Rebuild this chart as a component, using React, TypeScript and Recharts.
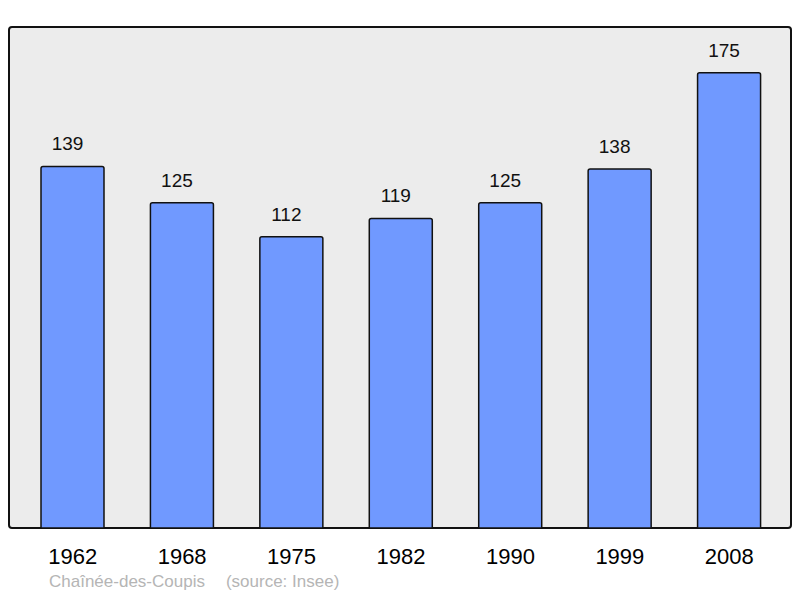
import React from 'react';
import { BarChart, Bar, XAxis, YAxis, LabelList } from 'recharts';

// Population par recensement
const years = ['1962', '1968', '1975', '1982', '1990', '1999', '2008'];
const population = [139, 125, 112, 119, 125, 138, 175];

const data = years.map((year, i) => ({ year, pop: population[i] }));

const FONT = '"Liberation Sans", Arial, Helvetica, sans-serif';

const YearTick = (props: any) => {
    const { x, payload } = props;
    return (
        <text x={x} y={564} textAnchor="middle" fontSize={22} fontFamily={FONT} fill="#000">
            {payload.value}
        </text>
    );
};

export default function App() {
    return (
        <div style={{ position: 'absolute', left: 0, top: 0, width: 800, height: 598, background: '#fff', fontFamily: FONT }}>
            {/* panneau gris derrière le graphique */}
            <div
                style={{
                    position: 'absolute',
                    left: 8,
                    top: 26,
                    width: 784,
                    height: 503,
                    boxSizing: 'border-box',
                    border: '2px solid #111',
                    borderRadius: 4,
                    background: '#ececec',
                }}
            />
            <div style={{ position: 'absolute', left: 0, top: 0 }}>
                <BarChart width={800} height={598} data={data} margin={{ top: 27, right: 16, bottom: 0, left: 18 }}>
                    <XAxis dataKey="year" axisLine={false} tickLine={false} tick={<YearTick />} interval={0} height={70} />
                    <YAxis hide domain={[0, 192.6]} />
                    <Bar
                        dataKey="pop"
                        fill="#7099ff"
                        stroke="#111"
                        strokeWidth={1.5}
                        barSize={63}
                        radius={[2, 2, 0, 0]}
                        isAnimationActive={false}
                    >
                        <LabelList dataKey="pop" position="top" offset={16} dx={-5} fontSize={19} fontFamily={FONT} fill="#111" />
                    </Bar>
                </BarChart>
            </div>
            <div style={{ position: 'absolute', left: 49, top: 572, fontSize: 17, color: '#b5b5b5', whiteSpace: 'nowrap' }}>
                <span>Chaînée-des-Coupis</span>
                <span style={{ marginLeft: 21 }}>(source: Insee)</span>
            </div>
        </div>
    );
}
